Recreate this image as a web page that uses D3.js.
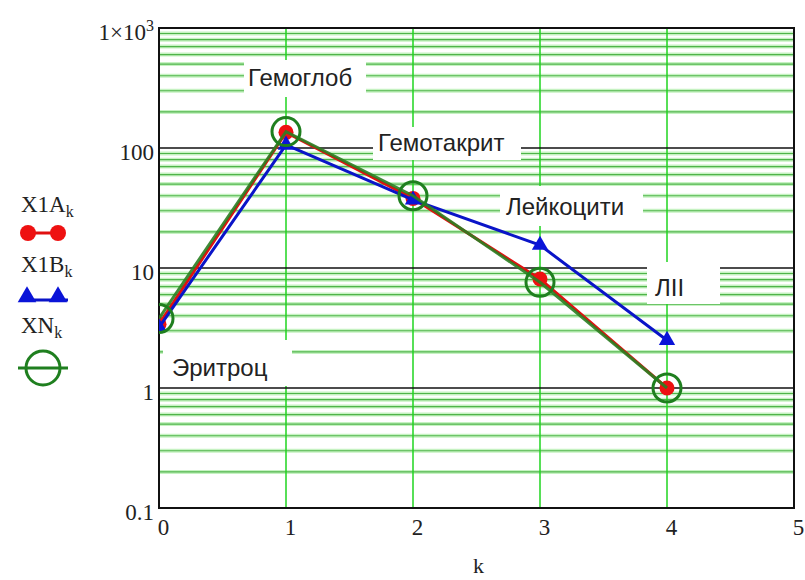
<!DOCTYPE html>
<html><head><meta charset="utf-8">
<script src="https://cdn.jsdelivr.net/npm/d3@7/dist/d3.min.js"></script>
<style>body{margin:0;background:#fff}</style>
</head><body>
<svg id="chart" width="805" height="580"></svg>
<script>
// Indicator index k and the three series (log scale)
const ks = [0, 1, 2, 3, 4];
const x1A = [3.4, 135, 38, 8.1, 1.0];
const x1B = [3.2, 106, 37, 15.5, 2.5];
const xN = [3.8, 137, 40, 7.6, 1.0];
const indicatorNames = ["Эритроц", "Гемоглоб", "Гемотакрит", "Лейкоцити", "ЛІІ"];
const yTicks = [0.1, 1, 10, 100, 1000];
const xTicks = [0, 1, 2, 3, 4, 5];
const seriesNames = ["X1A", "X1B", "XN"];

const svg = d3.select("#chart");
const L = 159, R = 794, T = 28, B = 508;
const x = d3.scaleLinear().domain([0, 5]).range([L, R]);
const y = d3.scaleLog().domain([0.1, 1000]).range([B, T]);

const serif = "'Liberation Serif','Times New Roman',serif";
const sans = "'Liberation Sans',Arial,sans-serif";

svg.append("defs").append("clipPath").attr("id", "plotClip")
  .append("rect").attr("x", L).attr("y", T).attr("width", R - L).attr("height", B - T);

// minor log grid lines (2..9 in each decade)
const minor = [];
for (let d = -1; d < 3; d++) for (let m = 2; m <= 9; m++) minor.push(m * Math.pow(10, d));
const grid = svg.append("g");
grid.selectAll("line.halo").data(minor).join("line")
  .attr("x1", L).attr("x2", R).attr("y1", d => y(d)).attr("y2", d => y(d))
  .attr("stroke", "#c6f2c2").attr("stroke-width", 4);
grid.selectAll("line.core").data(minor).join("line")
  .attr("x1", L).attr("x2", R).attr("y1", d => y(d)).attr("y2", d => y(d))
  .attr("stroke", "#4fb44a").attr("stroke-width", 1.2);
// vertical grid at integer k
grid.selectAll("line.v").data(xTicks.slice(1, -1)).join("line")
  .attr("x1", d => x(d)).attr("x2", d => x(d)).attr("y1", T).attr("y2", B)
  .attr("stroke", "#1fd41f").attr("stroke-width", 1.5);
// decade lines
grid.selectAll("line.dec").data(yTicks.slice(1, -1)).join("line")
  .attr("x1", L).attr("x2", R).attr("y1", d => y(d)).attr("y2", d => y(d))
  .attr("stroke", "#111").attr("stroke-width", 1.6);

// text regions with white backgrounds
const labelBoxes = [
  {i: 0, x0: 163, x1: 292, y0: 340, y1: 386, tx: 172, ty: 368},
  {i: 1, x0: 244, x1: 366, y0: 60, y1: 97, tx: 248, ty: 78},
  {i: 2, x0: 373, x1: 521, y0: 127, y1: 160, tx: 378, ty: 143},
  {i: 3, x0: 500, x1: 643, y0: 186, y1: 226, tx: 506, ty: 207},
  {i: 4, x0: 647, x1: 720, y0: 262, y1: 304, tx: 655, ty: 288}
];
const lab = svg.append("g");
lab.selectAll("rect").data(labelBoxes).join("rect")
  .attr("x", d => d.x0).attr("y", d => d.y0)
  .attr("width", d => d.x1 - d.x0).attr("height", d => d.y1 - d.y0)
  .attr("fill", "#fff");
lab.selectAll("text").data(labelBoxes).join("text")
  .attr("x", d => d.tx).attr("y", d => d.ty).attr("dy", "0.35em")
  .attr("font-family", sans).attr("font-size", 24).attr("fill", "#222")
  .text(d => indicatorNames[d.i]);

// frame
svg.append("rect").attr("x", L).attr("y", T).attr("width", R - L).attr("height", B - T)
  .attr("fill", "none").attr("stroke", "#111").attr("stroke-width", 2);

// axes
const yAxis = svg.append("g").attr("transform", `translate(${L - 5},4)`)
  .call(d3.axisLeft(y).tickValues(yTicks).tickSize(0).tickPadding(0)
    .tickFormat(d => d === 1000 ? "" : d3.format("~g")(d)));
yAxis.select(".domain").remove();
yAxis.selectAll("text").attr("font-family", serif).attr("font-size", 23).attr("fill", "#222");
yAxis.selectAll(".tick").filter(d => d === 1000).select("text")
  .call(t => {
    t.append("tspan").text("1×10");
    t.append("tspan").attr("dy", "-0.55em").attr("font-size", 16).text("3");
  });

const xAxis = svg.append("g").attr("transform", `translate(4,${B + 11})`)
  .call(d3.axisBottom(x).tickValues(xTicks).tickSize(0).tickPadding(0).tickFormat(d3.format("d")));
xAxis.select(".domain").remove();
xAxis.selectAll("text").attr("font-family", serif).attr("font-size", 23).attr("fill", "#222");

svg.append("text").attr("x", (L + R) / 2 + 2).attr("y", 573)
  .attr("text-anchor", "middle").attr("font-family", serif).attr("font-size", 22)
  .attr("fill", "#222").text("k");

// data
const plot = svg.append("g").attr("clip-path", "url(#plotClip)");
const line = vals => d3.line().x((d, i) => x(ks[i])).y(d => y(d))(vals);
const tri = d3.symbol().type(d3.symbolTriangle).size(115);

plot.append("path").attr("d", line(x1A)).attr("fill", "none")
  .attr("stroke", "#e01010").attr("stroke-width", 3);
plot.selectAll("circle.a").data(x1A).join("circle")
  .attr("cx", (d, i) => x(ks[i])).attr("cy", d => y(d)).attr("r", 7.5).attr("fill", "#ee1111");

plot.append("path").attr("d", line(x1B)).attr("fill", "none")
  .attr("stroke", "#0a14c8").attr("stroke-width", 3);
plot.selectAll("path.b").data(x1B).join("path")
  .attr("transform", (d, i) => `translate(${x(ks[i])},${y(d)})`)
  .attr("d", tri).attr("fill", "#0a14d8");

plot.append("path").attr("d", line(xN)).attr("fill", "none")
  .attr("stroke", "#2a7f22").attr("stroke-width", 3).attr("stroke-opacity", 0.9);
plot.selectAll("circle.n").data(xN).join("circle")
  .attr("cx", (d, i) => x(ks[i])).attr("cy", d => y(d)).attr("r", 14)
  .attr("fill", "none").attr("stroke", "#1f7f1f").attr("stroke-width", 3);

// legend
const leg = svg.append("g");
const legRows = [212, 272, 333];
leg.selectAll("text").data(seriesNames).join("text")
  .attr("x", 21).attr("y", (d, i) => legRows[i])
  .attr("font-family", serif).attr("font-size", 23).attr("fill", "#222")
  .each(function (d) {
    const t = d3.select(this);
    t.append("tspan").text(d);
    t.append("tspan").attr("dy", 5).attr("font-size", 16).text("k");
  });
leg.append("line").attr("x1", 28).attr("x2", 58).attr("y1", 233).attr("y2", 233)
  .attr("stroke", "#e01010").attr("stroke-width", 3);
leg.selectAll("circle.la").data([28, 58]).join("circle")
  .attr("cx", d => d).attr("cy", 233).attr("r", 8).attr("fill", "#ee1111");
leg.append("line").attr("x1", 20).attr("x2", 68).attr("y1", 300).attr("y2", 300)
  .attr("stroke", "#0a14c8").attr("stroke-width", 3);
leg.selectAll("path.lb").data([27, 58]).join("path")
  .attr("transform", d => `translate(${d},297)`).attr("d", d3.symbol().type(d3.symbolTriangle).size(150))
  .attr("fill", "#0a14d8");
leg.append("line").attr("x1", 18).attr("x2", 68).attr("y1", 368).attr("y2", 368)
  .attr("stroke", "#1f7f1f").attr("stroke-width", 3);
leg.append("circle").attr("cx", 43).attr("cy", 368).attr("r", 17)
  .attr("fill", "none").attr("stroke", "#1f7f1f").attr("stroke-width", 3);
</script>
</body></html>
